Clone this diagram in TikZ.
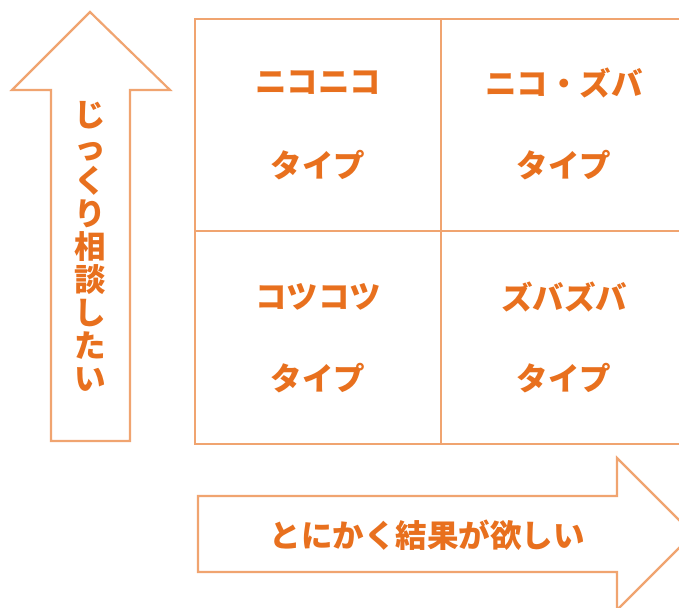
\documentclass[tikz,border=0pt]{standalone}
\usepackage{fontspec}
\newfontfamily\jp{Noto Sans CJK JP}[BoldFont={Noto Sans CJK JP Black}]
\definecolor{lineor}{HTML}{F0A470}
\definecolor{textor}{HTML}{E8701E}
\tikzset{
  cell/.style={draw=lineor, line width=2pt, minimum width=246pt, inner sep=0pt},
  lbl/.style={text=textor, font=\jp\bfseries\fontsize{31.5}{33}\selectfont, inner sep=0pt},
  bigarrow/.style={draw=lineor, line width=2.2pt, fill=white, line join=miter}
}
\begin{document}
\begin{tikzpicture}[x=1pt,y=-1pt]
\useasboundingbox (0,0) rectangle (679,607);
\clip (0,0) rectangle (679,607);
\fill[white] (0,0) rectangle (679,607);
% grid cells
\node[cell, minimum height=212pt] (c1) at (318,125) {};
\node[cell, minimum height=212pt] (c2) at (564,125) {};
\node[cell, minimum height=213pt] (c3) at (318,337.5) {};
\node[cell, minimum height=213pt] (c4) at (564,337.5) {};
\node[lbl] (t1a) at ([yshift=42pt]c1.center) {ニコニコ};
\node[lbl] (t1b) at ([yshift=-40pt]c1.center) {タイプ};
\node[lbl] (t2a) at ([yshift=42pt]c2.center) {ニコ・ズバ};
\node[lbl] (t2b) at ([yshift=-40pt]c2.center) {タイプ};
\node[lbl] (t3a) at ([yshift=41pt]c3.center) {コツコツ};
\node[lbl] (t3b) at ([yshift=-41pt]c3.center) {タイプ};
\node[lbl] (t4a) at ([yshift=41pt]c4.center) {ズバズバ};
\node[lbl] (t4b) at ([yshift=-41pt]c4.center) {タイプ};
% up arrow
\draw[bigarrow] (90,12) -- (170,90) -- (130,90) -- (130,441) -- (51,441) -- (51,90) -- (12,90) -- cycle;
\node[lbl, align=center] (vt) at (90,246) {じ\\っ\\く\\り\\相\\談\\し\\た\\い};
% right arrow
\draw[bigarrow] (198,496) -- (617,496) -- (617,458) -- (693,534) -- (617,610) -- (617,572) -- (198,572) -- cycle;
\node[lbl] (ht) at (427,535) {とにかく結果が欲しい};
\end{tikzpicture}
\end{document}
